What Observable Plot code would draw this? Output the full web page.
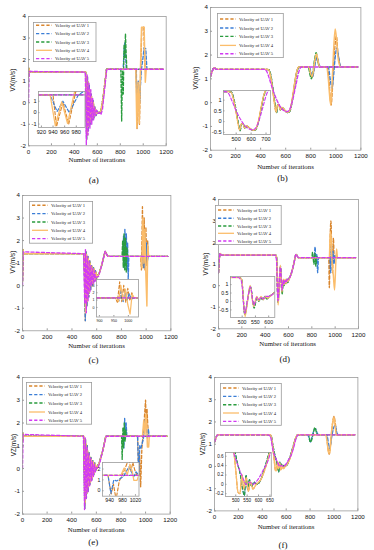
<!DOCTYPE html>
<html><head><meta charset="utf-8">
<script src="https://cdn.jsdelivr.net/npm/d3@7"></script>
<script src="https://cdn.jsdelivr.net/npm/@observablehq/plot@0.6"></script>
<style>
body{margin:0;background:#fff}
#root{position:relative;width:374px;height:550px;overflow:hidden;background:#fff}
.ylab{position:absolute;font-family:"Liberation Sans",Arial,sans-serif;font-size:6.3px;color:#111;white-space:nowrap;transform:translate(-50%,-50%) rotate(-90deg)}
.xlab{position:absolute;font-family:"Liberation Serif","Times New Roman",serif;font-size:6.8px;color:#111;white-space:nowrap;transform:translate(-50%,-50%)}
.cap{position:absolute;font-family:"Liberation Serif","Times New Roman",serif;font-size:9px;color:#111;white-space:nowrap;transform:translate(-50%,-50%)}
</style></head>
<body><div id="root"></div>
<script>
// ---------- shared labels ----------
const X_TICKS = [0, 200, 400, 600, 800, 1000, 1200];
const Y_TICKS = [-2, -1, 0, 1, 2, 3, 4];
const UAV_NAMES = ["Velocity of UAV 1", "Velocity of UAV 2", "Velocity of UAV 3", "Velocity of UAV 4", "Velocity of UAV 5"];
const X_TITLE = "Number of iterations";

// ---------- (a) VX ----------
const aStart = [[0,1.2],[4,1.6],[10,1.42],[490,1.42]];
const aOsc1 = [[497,1.42],[507,-1.7],[514,1.2],[522,-1.3],[530,0.8],[538,-1.0],[546,0.4],[554,-0.8],[562,0.1],[570,-0.7],[578,-0.2],[588,-0.6],[600,-0.4],[615,-0.5],[630,-0.4],[650,0.2],[680,1.55]];
const aOsc2 = [[499,1.42],[509,-1.5],[516,1.0],[524,-1.1],[532,0.6],[541,-0.9],[549,0.3],[558,-0.7],[566,0.0],[574,-0.6],[583,-0.3],[595,-0.5],[612,-0.45],[630,-0.4],[650,0.2],[680,1.55]];
const aU1 = [...aStart, ...aOsc1, [940,1.55],[946,-1.2],[957,0.9],[967,-1.0],[978,1.6],[988,3.5],[1005,3.5],[1010,2.5],[1016,1.55],[1175,1.55]];
const aU2 = [...aStart, ...aOsc1, [825,1.55],[833,2.4],[840,2.8],[846,2.3],[852,1.55],[935,1.55],[947,0.1],[957,1.0],[968,0.0],[983,1.5],[996,2.0],[1008,2.55],[1022,2.5],[1032,1.55],[1175,1.55]];
const aU3 = [...aStart, ...aOsc2, [805,1.55],[812,-0.85],[819,1.5],[826,0.4],[833,2.7],[839,2.1],[845,3.2],[851,2.3],[857,1.55],[1175,1.55]];
const aU4 = [...aStart, ...aOsc2, [935,1.55],[944,-1.15],[955,0.95],[965,-0.95],[976,1.6],[985,3.5],[1008,3.5],[1018,0.95],[1026,1.55],[1175,1.55]];
const aU5 = [[0,0],[5,1.45],[490,1.42],[495,1.42],[504,-2.0],[511,1.3],[519,-1.5],[527,0.9],[535,-1.2],[543,0.6],[551,-1.0],[559,0.2],[567,-0.8],[575,-0.2],[584,-0.6],[594,-0.35],[604,-0.5],[618,-0.45],[632,-0.55],[645,-0.3],[682,1.55],[1175,1.55]];

// ---------- (b) VX ----------
const bStart = [[0,1.1],[12,1.3],[30,1.47],[45,1.4],[450,1.4]];
const bDip1 = [[465,1.38],[480,1.1],[495,0.6],[510,0.0],[524,-0.4],[534,-0.12],[545,-0.08],[556,-0.3],[570,-0.2],[590,-0.3],[610,-0.4],[628,-0.38],[648,0.0],[668,0.7],[688,1.3],[705,1.5]];
const bDip2 = [[468,1.38],[483,1.1],[498,0.6],[513,0.0],[527,-0.42],[537,-0.1],[548,-0.1],[559,-0.32],[573,-0.22],[593,-0.32],[613,-0.42],[631,-0.38],[650,0.0],[670,0.7],[690,1.3],[707,1.5]];
const bU1 = [...bStart, ...bDip1, [785,1.5],[800,1.15],[810,1.05],[822,1.3],[835,1.8],[846,2.0],[858,1.75],[872,1.5],[930,1.5],[945,1.0],[955,0.2],[963,-0.1],[972,0.5],[985,1.8],[995,2.5],[1005,2.8],[1015,2.2],[1028,1.7],[1040,1.5],[1175,1.5]];
const bU2 = [...bStart, ...bDip2, [790,1.5],[805,1.2],[815,1.1],[828,1.4],[840,1.75],[852,1.9],[864,1.65],[878,1.5],[940,1.5],[955,1.0],[968,0.6],[980,1.0],[993,1.8],[1008,2.3],[1020,2.0],[1033,1.6],[1048,1.5],[1175,1.5]];
const bU3 = [...bStart, ...bDip2, [780,1.5],[795,1.15],[805,1.0],[815,1.2],[830,1.8],[843,2.1],[855,1.8],[868,1.5],[1175,1.5]];
const bU4 = [...bStart, ...bDip1, [785,1.5],[800,1.2],[810,1.1],[822,1.35],[835,1.85],[846,2.05],[858,1.75],[872,1.5],[925,1.5],[940,1.0],[952,0.2],[960,-0.1],[970,0.8],[982,2.2],[995,3.1],[1005,2.7],[1015,2.0],[1028,1.6],[1040,1.5],[1175,1.5]];
const bU5 = [[0,1.1],[12,1.3],[30,1.47],[45,1.4],[430,1.4],[450,1.3],[470,1.0],[500,0.5],[530,0.1],[560,-0.2],[590,-0.35],[610,-0.38],[630,-0.3],[655,0.1],[680,0.7],[705,1.3],[725,1.5],[1175,1.5]];

// ---------- (c) VY ----------
const cStart = [[0,0.2],[4,1.6],[10,1.42],[490,1.42]];
const cOsc1 = [[497,1.42],[508,-1.55],[514,1.5],[521,-0.9],[529,1.3],[536,-0.5],[544,1.1],[551,-0.2],[559,0.9],[566,0.0],[574,0.8],[581,0.2],[589,0.7],[597,0.3],[606,0.45],[620,0.55],[640,0.9],[668,1.52],[690,1.3]];
const cOsc2 = [[499,1.42],[511,-1.2],[517,1.4],[524,-0.7],[532,1.2],[539,-0.3],[547,1.0],[555,0.0],[562,0.85],[570,0.1],[578,0.75],[585,0.25],[594,0.6],[603,0.35],[620,0.55],[640,0.9],[668,1.52],[690,1.3]];
const cU1 = [...cStart, ...cOsc1, [955,1.3],[962,0.7],[970,3.5],[977,0.8],[984,3.0],[991,0.7],[998,2.6],[1005,0.9],[1012,2.0],[1018,1.3],[1175,1.3]];
const cU2 = [...cStart, ...cOsc1, [812,1.3],[817,2.2],[822,0.8],[828,2.5],[834,0.9],[840,2.3],[845,0.7],[850,1.9],[855,0.3],[860,1.3],[962,1.3],[968,0.9],[975,2.5],[982,0.8],[989,2.3],[996,1.0],[1003,1.9],[1010,1.1],[1017,1.3],[1175,1.3]];
const cU3 = [...cStart, ...cOsc2, [805,1.3],[810,2.0],[815,0.8],[821,2.3],[827,0.7],[833,2.1],[839,0.6],[845,1.7],[851,1.3],[1175,1.3]];
const cU4 = [...cStart, ...cOsc2, [958,1.3],[966,0.8],[974,3.0],[982,1.0],[990,2.5],[998,0.4],[1006,-0.9],[1013,1.8],[1020,1.3],[1175,1.3]];
const cU5 = [[0,0],[5,1.5],[490,1.42],[495,1.42],[503,-0.8],[509,1.6],[516,-1.2],[523,1.3],[530,-0.7],[538,1.1],[545,-0.3],[553,0.9],[560,0.0],[568,0.75],[576,0.1],[584,0.65],[592,0.2],[602,0.4],[615,0.4],[640,0.9],[668,1.52],[690,1.3],[1175,1.3]];

// ---------- (d) VY ----------
const dStart = [[0,0.6],[8,1.3],[15,1.5],[25,1.42],[490,1.42]];
const dOsc1 = [[498,1.3],[510,-0.75],[520,0.05],[531,0.9],[544,-0.25],[556,0.25],[563,0.05],[570,0.25],[578,0.1],[586,0.3],[594,0.15],[603,0.3],[620,0.5],[645,1.0],[665,1.45],[685,1.3]];
const dOsc3 = [[498,1.3],[510,-0.8],[520,0.0],[531,0.85],[545,-0.4],[556,0.2],[563,0.0],[570,0.2],[578,0.1],[586,0.25],[594,0.15],[603,0.3],[620,0.5],[645,1.0],[665,1.45],[685,1.3]];
const dOsc4 = [[498,1.3],[511,-0.9],[520,0.0],[530,0.95],[543,-0.3],[555,0.3],[563,0.05],[571,0.3],[580,0.1],[588,0.3],[596,0.2],[605,0.3],[620,0.5],[645,1.0],[665,1.45],[685,1.3]];
const dU1 = [...dStart, ...dOsc1, [945,1.3],[950,-0.1],[957,2.2],[964,3.0],[971,1.5],[978,0.6],[985,2.2],[992,1.3],[1175,1.3]];
const dU2 = [...dStart, ...dOsc1, [820,1.3],[828,1.8],[835,1.0],[842,1.45],[850,0.6],[857,1.3],[955,1.3],[962,0.6],[968,1.9],[975,1.1],[982,1.6],[990,1.0],[998,1.4],[1005,1.3],[1175,1.3]];
const dU3 = [...dStart, ...dOsc3, [800,1.3],[806,1.55],[812,1.25],[818,1.0],[826,1.5],[834,0.9],[842,1.35],[850,1.3],[1175,1.3]];
const dU4 = [...dStart, ...dOsc4, [950,1.3],[958,2.5],[966,2.2],[974,1.0],[984,0.5],[995,-0.2],[1005,1.0],[1012,1.7],[1020,1.3],[1175,1.3]];
const dU5 = [[0,0.6],[8,1.3],[15,1.5],[25,1.42],[485,1.42],[497,1.2],[510,-0.7],[520,0.1],[531,0.85],[544,-0.2],[556,0.25],[564,0.1],[572,0.25],[580,0.15],[590,0.3],[600,0.3],[620,0.5],[645,1.0],[665,1.45],[685,1.3],[1175,1.3]];

// ---------- (e) VZ ----------
const eStart = [[0,1.2],[4,1.55],[10,1.42],[490,1.42]];
const eOsc1 = [[497,1.42],[506,-1.75],[512,1.3],[519,-1.3],[526,1.0],[533,-1.0],[541,0.7],[548,-0.7],[556,0.5],[563,-0.5],[571,0.35],[579,-0.3],[587,0.25],[595,-0.1],[605,0.1],[620,0.2],[650,0.75],[676,1.42]];
const eOsc2 = [[499,1.42],[509,-1.5],[515,1.1],[522,-1.1],[529,0.8],[537,-0.8],[544,0.55],[552,-0.6],[559,0.4],[567,-0.4],[575,0.3],[583,-0.2],[591,0.2],[600,0.0],[612,0.1],[630,0.35],[655,0.85],[678,1.42]];
const eU1 = [...eStart, ...eOsc1, [935,1.42],[945,-0.3],[952,0.6],[960,-0.8],[970,0.9],[980,1.5],[990,2.2],[1000,3.0],[1006,1.8],[1012,2.6],[1018,1.9],[1025,1.42],[1175,1.42]];
const eU2 = [...eStart, ...eOsc1, [818,1.42],[824,0.9],[830,2.2],[836,1.3],[842,2.0],[848,1.42],[935,1.42],[944,-0.25],[953,1.0],[962,0.9],[972,1.1],[982,1.3],[992,1.8],[1000,2.2],[1008,1.7],[1015,1.3],[1022,1.75],[1030,1.42],[1175,1.42]];
const eU3 = [...eStart, ...eOsc2, [805,1.42],[810,0.4],[816,1.8],[821,0.9],[827,2.0],[833,1.2],[839,1.7],[845,1.42],[1175,1.42]];
const eU4 = [...eStart, ...eOsc2, [975,1.42],[985,2.1],[995,1.5],[1003,2.4],[1010,1.8],[1015,0.95],[1025,0.95],[1030,1.42],[1175,1.42]];
const eU5 = [[0,0],[5,1.5],[490,1.42],[495,1.42],[504,-1.8],[510,1.35],[517,-1.35],[524,0.95],[531,-1.05],[538,0.65],[546,-0.75],[553,0.45],[561,-0.55],[568,0.3],[576,-0.35],[584,0.2],[592,-0.15],[600,0.05],[612,0.0],[630,0.3],[655,0.85],[680,1.42],[1175,1.42]];

// ---------- (f) VZ ----------
const fStart = [[0,1.1],[10,1.25],[25,1.42],[470,1.42]];
const fDip1 = [[485,1.0],[500,0.3],[510,-0.17],[518,-0.2],[528,0.2],[535,-0.1],[546,0.15],[555,-0.15],[565,0.05],[575,-0.1],[590,0.0],[610,0.1],[630,0.35],[650,0.7],[675,1.2],[695,1.42]];
const fDip2 = [[490,0.9],[505,0.5],[520,0.2],[530,-0.1],[538,-0.24],[545,0.2],[552,-0.1],[560,0.1],[570,-0.05],[580,0.05],[595,0.0],[610,0.1],[630,0.4],[650,0.75],[675,1.2],[695,1.42]];
const fU1 = [...fStart, ...fDip1, [935,1.42],[950,0.8],[960,0.55],[970,0.9],[985,1.8],[1000,2.25],[1012,1.9],[1025,1.4],[1040,1.42],[1175,1.42]];
const fU2 = [...fStart, ...fDip2, [780,1.42],[795,1.2],[805,1.1],[815,1.3],[830,1.6],[845,1.7],[860,1.5],[870,1.42],[940,1.42],[955,1.0],[965,0.8],[980,1.3],[995,1.7],[1010,1.85],[1025,1.5],[1040,1.42],[1175,1.42]];
const fU3 = [...fStart, ...fDip2, [790,1.42],[800,1.1],[810,1.15],[825,1.45],[840,1.75],[855,1.5],[865,1.42],[1175,1.42]];
const fU4 = [...fStart, ...fDip1, [930,1.42],[945,1.0],[955,0.6],[965,0.6],[975,1.3],[990,2.0],[1000,2.2],[1010,1.8],[1020,1.4],[1035,1.42],[1175,1.42]];
const fU5 = [[0,1.1],[10,1.25],[25,1.42],[450,1.42],[470,1.3],[490,0.7],[510,0.4],[530,0.15],[546,0.0],[560,0.05],[575,0.0],[597,0.1],[620,0.3],[641,0.5],[660,0.8],[685,1.3],[700,1.42],[1175,1.42]];

// ---------- inset axes ----------
const aInsetX = [920, 940, 960, 980], aInsetY = [-1, 0, 1];
const bInsetX = [500, 600, 700], bInsetY = [-0.5, 0, 0.5, 1];
const cInsetX = [900, 950, 1000], cInsetY = [0, 1, 2, 3];
const dInsetX = [500, 550, 600], dInsetY = [-0.5, 0, 0.5, 1];
const eInsetX = [940, 980, 1020], eInsetY = [0, 1, 2];
const fInsetX = [500, 550, 600, 650], fInsetY = [-0.2, 0, 0.2, 0.4, 0.6];

// ---------- styles ----------
const COLORS = ["#D9862E", "#3B7ED6", "#2A9C3E", "#FBBD6B", "#D23AF2"];
const DASH = ["3.2,2", "3.2,2", "3.2,2", null, "3.2,2"];
const FRAME = "#9b9b9b";
const fmt = d => String(d);

const panels = [
  {series:[aU1,aU2,aU3,aU4,aU5], curve:"linear", ylabel:"VX(m/s)", cap:"(a)",
   fx:28, fy:15.7, fw:137.7, fh:129.3, ylx:11.7, xly:159, capy:180,
   leg:{x:33.3, y:21.7, w:63.4, h:40, rows:[25,33.3,41.7,50,58.3]},
   ins:{x:37.5, y:90.5, w:46.5, h:36, xd:[915,995], yd:[-1.3,1.85], xt:aInsetX, yt:aInsetY, fs:5.6}},
  {series:[bU1,bU2,bU3,bU4,bU5], curve:"monotone-x", ylabel:"VX(m/s)", cap:"(b)",
   fx:210.3, fy:7, fw:150.4, fh:142.7, ylx:195.3, xly:166, capy:177.5,
   leg:{x:217, y:13.3, w:66.7, h:45, rows:[19.3,28.3,36.7,45.7,54]},
   ins:{x:223.3, y:90, w:47, h:44, xd:[415,730], yd:[-0.6,1.45], xt:bInsetX, yt:bInsetY, fs:5.6}},
  {series:[cU1,cU2,cU3,cU4,cU5], curve:"linear", ylabel:"VY(m/s)", cap:"(c)",
   fx:22.3, fy:194.7, fw:148.4, fh:135.3, ylx:12, xly:345, capy:360,
   leg:{x:29.3, y:200.7, w:64, h:42.6, rows:[205,213.3,221.7,230,238.3]},
   ins:{x:96, y:279, w:42, h:37.5, xd:[890,1035], yd:[-1.3,3.8], xt:cInsetX, yt:cInsetY, fs:3.6}},
  {series:[dU1,dU2,dU3,dU4,dU5], curve:"monotone-x", ylabel:"VY(m/s)", cap:"(d)",
   fx:217.7, fy:199, fw:140, fh:129.3, ylx:205, xly:343, capy:359,
   leg:{x:214.7, y:205, w:66.6, h:40, rows:[210,218.3,226,233.3,241]},
   ins:{x:230.2, y:276, w:44.3, h:41, xd:[456,623], yd:[-0.95,1.48], xt:dInsetX, yt:dInsetY, fs:5.2}},
  {series:[eU1,eU2,eU3,eU4,eU5], curve:"linear", ylabel:"VZ(m/s)", cap:"(e)",
   fx:22.3, fy:376.7, fw:147.7, fh:136.6, ylx:12.7, xly:529, capy:542,
   leg:{x:25.7, y:381.7, w:66, h:42.6, rows:[385.7,394.3,402.7,411.7,420]},
   ins:{x:102, y:462.3, w:36.5, h:33.7, xd:[918,1031], yd:[-0.5,2.6], xt:eInsetX, yt:eInsetY, fs:5.2}},
  {series:[fU1,fU2,fU3,fU4,fU5], curve:"monotone-x", ylabel:"VZ(m/s)", cap:"(f)",
   fx:214.3, fy:377.3, fw:143.4, fh:133.4, ylx:202, xly:526, capy:545,
   leg:{x:220.3, y:383.3, w:61.7, h:42.7, rows:[388.3,396.7,405,413.3,421.7]},
   ins:{x:224.8, y:451.5, w:45.8, h:44, xd:[455,656], yd:[-0.26,0.68], xt:fInsetX, yt:fInsetY, fs:4.6}}
];

const root = document.getElementById("root");

function lineMarks(series, curve, sw) {
  return series.map((pts, i) => Plot.line(pts, {
    x: d => d[0], y: d => d[1], stroke: COLORS[i], strokeWidth: i === 3 ? sw * 1.1 : sw,
    strokeDasharray: DASH[i] || undefined, curve, clip: true
  }));
}

function place(el, left, top) {
  el.style.position = "absolute"; el.style.left = left + "px"; el.style.top = top + "px";
  root.appendChild(el);
}

for (const p of panels) {
  const ml = 24, mr = 6, mt = 5, mb = 12;
  const main = Plot.plot({
    width: p.fw + ml + mr, height: p.fh + mt + mb,
    marginLeft: ml, marginRight: mr, marginTop: mt, marginBottom: mb,
    x: {domain: [0, 1200]}, y: {domain: [-2, 4]},
    style: {fontFamily: "'Liberation Sans', Arial, sans-serif", fontSize: "6.2px", background: "transparent", color: "#111", overflow: "visible"},
    marks: [
      Plot.frame({fill: "white"}),
      ...lineMarks(p.series, p.curve, 1.35),
      Plot.frame({stroke: FRAME, strokeWidth: 0.8}),
      Plot.axisX({ticks: X_TICKS, tickFormat: fmt, tickSize: -2, tickPadding: 5.5, stroke: FRAME, label: null}),
      Plot.axisY({ticks: Y_TICKS, tickFormat: fmt, tickSize: -2, tickPadding: 4.5, stroke: FRAME, label: null})
    ]
  });
  place(main, p.fx - ml, p.fy - mt);

  const I = p.ins, iml = 12, imr = 2, imt = 2, imb = 10;
  const inset = Plot.plot({
    width: I.w + iml + imr, height: I.h + imt + imb,
    marginLeft: iml, marginRight: imr, marginTop: imt, marginBottom: imb,
    x: {domain: I.xd}, y: {domain: I.yd},
    style: {fontFamily: "'Liberation Sans', Arial, sans-serif", fontSize: I.fs + "px", background: "transparent", color: "#111", overflow: "visible"},
    marks: [
      Plot.frame({fill: "white"}),
      ...lineMarks(p.series, p.curve, 1.15),
      Plot.frame({stroke: FRAME, strokeWidth: 0.8}),
      Plot.axisX({ticks: I.xt, tickFormat: fmt, tickSize: -1.5, tickPadding: 4, stroke: FRAME, label: null}),
      Plot.axisY({ticks: I.yt, tickFormat: fmt, tickSize: -1.5, tickPadding: 3.5, stroke: FRAME, label: null})
    ]
  });
  place(inset, I.x - iml, I.y - imt);

  // legend
  const L = p.leg;
  const svg = d3.create("svg").attr("width", L.w).attr("height", L.h)
    .style("background", "white").style("overflow", "visible");
  svg.append("rect").attr("x", 0.4).attr("y", 0.4).attr("width", L.w - 0.8).attr("height", L.h - 0.8)
    .attr("fill", "white").attr("stroke", FRAME).attr("stroke-width", 0.8);
  UAV_NAMES.forEach((name, i) => {
    const yy = L.rows[i] - L.y;
    svg.append("line").attr("x1", 3).attr("x2", 19).attr("y1", yy).attr("y2", yy)
      .attr("stroke", COLORS[i]).attr("stroke-width", i === 3 ? 1.3 : 1.4)
      .attr("stroke-dasharray", DASH[i] || null);
    svg.append("text").attr("x", 22).attr("y", yy).attr("dy", "0.35em")
      .attr("font-family", "'Liberation Serif', 'Times New Roman', serif").attr("font-size", 4.6)
      .attr("fill", "#222").text(name);
  });
  place(svg.node(), L.x, L.y);

  const yl = document.createElement("div"); yl.className = "ylab"; yl.textContent = p.ylabel;
  yl.style.left = p.ylx + "px"; yl.style.top = (p.fy + p.fh / 2) + "px"; root.appendChild(yl);
  const xl = document.createElement("div"); xl.className = "xlab"; xl.textContent = X_TITLE;
  xl.style.left = (p.fx + p.fw / 2) + "px"; xl.style.top = p.xly + "px"; root.appendChild(xl);
  const cp = document.createElement("div"); cp.className = "cap"; cp.textContent = p.cap;
  cp.style.left = (p.fx + p.fw / 2 - 3) + "px"; cp.style.top = p.capy + "px"; root.appendChild(cp);
}
</script></body></html>
